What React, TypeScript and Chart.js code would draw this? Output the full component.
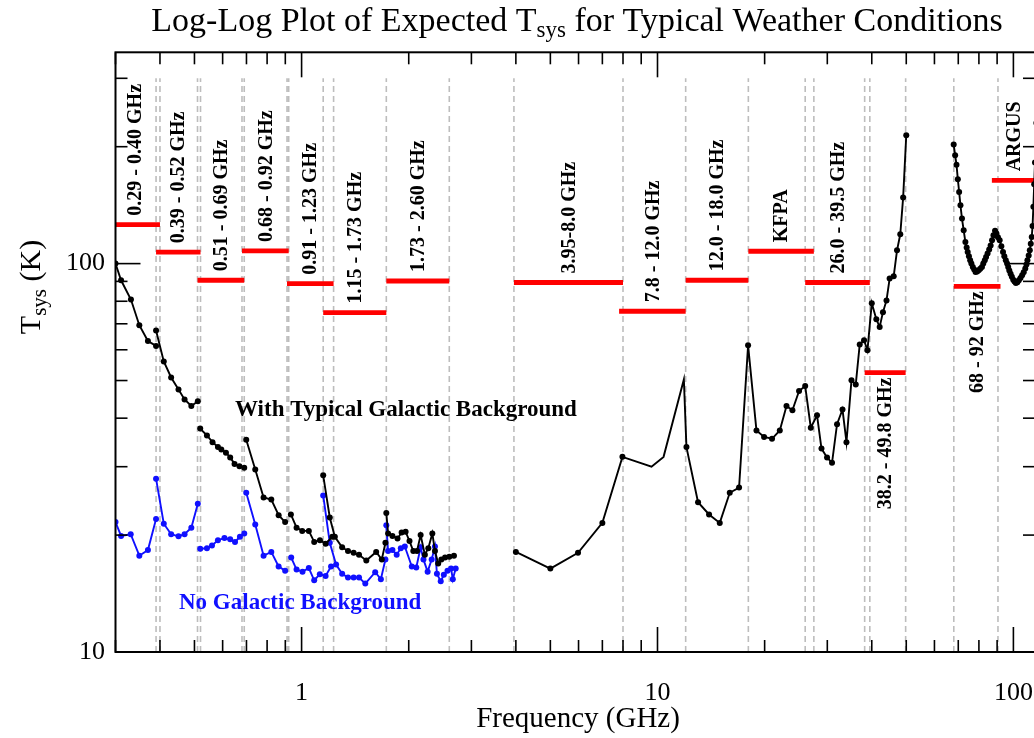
import React, { useEffect, useRef } from "react";
import { Chart, registerables } from "chart.js";

Chart.register(...registerables);

const FONT = "'Liberation Serif', 'Times New Roman', serif";

// ---- Tsys with typical galactic background (black), one array per receiver band ----
const galPF1a = [[0.30, 100], [0.311, 90.6], [0.3315, 80.8], [0.35, 69.4], [0.37, 63.2], [0.39, 61.4]];
const galPF1b = [[0.39, 67.3], [0.41, 56.0], [0.43, 50.9], [0.451, 47.4], [0.469, 44.7], [0.49, 43.0], [0.511, 44.2]];
const galPF1c = [[0.519, 37.6], [0.542, 36.1], [0.562, 34.7], [0.582, 33.7], [0.595, 33.2], [0.613, 32.6], [0.63, 31.7], [0.648, 30.5], [0.669, 30.1], [0.69, 29.8]];
const galPF1d = [[0.699, 35.2], [0.741, 29.5], [0.782, 25.0], [0.822, 24.7], [0.862, 22.5], [0.899, 21.6]];
const galPF2 = [[0.933, 22.6], [0.968, 20.9], [1.004, 20.5], [1.048, 20.5], [1.085, 19.2], [1.126, 19.4], [1.168, 19.0], [1.22, 19.8]];
const galL = [[1.15, 28.5], [1.2, 22.2], [1.24, 19.8], [1.3, 18.6], [1.35, 18.2], [1.4, 18.0], [1.45, 17.8], [1.52, 17.2], [1.62, 18.1], [1.68, 17.3], [1.72, 19.1]];
const galS = [[1.73, 22.8], [1.75, 20.2], [1.8, 19.9], [1.86, 19.6], [1.91, 20.3], [1.96, 20.4], [2.01, 19.3], [2.06, 18.2], [2.11, 18.2], [2.16, 20.0], [2.22, 17.8], [2.27, 18.5], [2.33, 20.2], [2.37, 18.2], [2.42, 16.9], [2.47, 17.3], [2.53, 17.5], [2.6, 17.6], [2.68, 17.7]];
const galHigh = [[4.0, 18.1], [5.0, 16.4], [5.98, 18.0], [7.0, 21.5], [7.97, 31.8], [9.62, 30.0], [10.4, 31.8], [11.86, 50.3], [12.06, 33.7], [13.0, 24.3], [13.96, 22.6], [14.96, 21.5], [15.96, 25.7], [16.95, 26.5], [17.97, 61.6], [18.97, 37.2], [19.93, 35.8], [20.98, 35.4], [22.06, 37.2], [23.04, 43.0], [23.94, 41.9], [24.99, 47.0], [26.0, 48.4], [26.96, 37.8], [28.07, 40.7], [28.89, 33.4], [29.95, 31.7], [30.93, 30.7], [31.95, 38.6], [33.1, 42.1], [33.96, 34.7], [35.08, 50.1], [36.06, 48.8], [37.0, 61.9], [38.05, 63.5], [38.9, 59.8], [40.0, 79.1], [41.2, 71.9], [42.1, 68.7], [43.0, 75.0], [44.0, 80.4], [44.9, 91.5], [46.1, 92.8], [47.1, 108.2], [48.1, 119], [49.0, 147.9], [50.0, 213.9]];
const galW = [[67.96, 202.5], [68.6, 190], [69.2, 179.8], [69.8, 165], [70.4, 152.9], [71.0, 141.3], [71.7, 130.6], [72.5, 121.8], [73.3, 113.7], [73.9, 110], [74.4, 107.1], [75.0, 104.5], [75.6, 102], [76.2, 100], [76.9, 98], [77.6, 96.5], [78.3, 95.1], [79.1, 95.4], [79.9, 96.1], [80.7, 97], [81.6, 98], [82.3, 100], [83.1, 102], [83.8, 104], [84.6, 106.1], [85.5, 108.8], [86.3, 111.4], [87.1, 114.8], [87.9, 118.3], [88.8, 121.5], [89.6, 119.5], [90.5, 117], [91.5, 114.8], [92.5, 110.8], [93.5, 107.1], [94.3, 104.5], [95.2, 102], [96.0, 100], [96.7, 98], [97.4, 96], [98.2, 94.2], [99.0, 92.5], [99.9, 90.9], [100.7, 89.9], [101.6, 89.1], [102.6, 89.6], [103.6, 90.6], [104.7, 91.8], [105.8, 93.3], [106.9, 95.0], [108.0, 97.1], [108.8, 99.5], [109.5, 102], [110.4, 105], [111.2, 108.2], [111.9, 112.5], [112.6, 117.1], [113.2, 125], [113.8, 140], [114.4, 160], [115.0, 182], [116.0, 230]];

// ---- Tsys with no galactic background (blue) ----
const noGalPF1a = [[0.30, 21.6], [0.311, 19.9], [0.331, 20.1], [0.35, 17.7], [0.37, 18.3], [0.39, 22.0]];
const noGalPF1b = [[0.39, 27.95], [0.41, 21.4], [0.43, 20.1], [0.451, 19.85], [0.469, 20.1], [0.49, 20.9], [0.511, 24.1]];
const noGalPF1c = [[0.519, 18.45], [0.542, 18.5], [0.56, 18.8], [0.582, 19.4], [0.607, 19.65], [0.63, 19.5], [0.65, 19.2], [0.671, 19.8], [0.69, 20.2]];
const noGalPF1d = [[0.699, 25.7], [0.741, 21.3], [0.782, 17.7], [0.822, 18.1], [0.862, 16.6], [0.899, 16.2]];
const noGalPF2 = [[0.935, 17.5], [0.968, 16.3], [1.006, 16.1], [1.048, 16.45], [1.085, 15.3], [1.125, 15.85], [1.168, 15.7], [1.21, 16.6]];
const noGalL = [[1.15, 25.3], [1.2, 19.1], [1.25, 16.8], [1.3, 15.9], [1.35, 15.55], [1.4, 15.55], [1.45, 15.55], [1.51, 15.0], [1.61, 16.05], [1.67, 15.4], [1.72, 17.3]];
const noGalS = [[1.73, 21.2], [1.75, 18.2], [1.8, 18.3], [1.85, 17.8], [1.9, 18.5], [1.95, 18.7], [2.04, 16.6], [2.1, 16.5], [2.16, 18.6], [2.2, 17.3], [2.26, 16.1], [2.32, 17.3], [2.37, 18.7], [2.4, 15.9], [2.46, 15.2], [2.51, 15.8], [2.57, 16.2], [2.63, 16.4], [2.66, 15.4], [2.71, 16.4]];

// ---- Receiver band bars (red) ----
const barLabels = ["0.29 - 0.40 GHz", "0.39 - 0.52 GHz", "0.51 - 0.69 GHz", "0.68 - 0.92 GHz", "0.91 - 1.23 GHz", "1.15 - 1.73 GHz", "1.73 - 2.60 GHz", "3.95-8.0 GHz", "7.8 - 12.0 GHz", "12.0 - 18.0 GHz", "KFPA", "26.0 - 39.5 GHz", "38.2 - 49.8 GHz", "68 - 92 GHz", "ARGUS"];
const barLo = [0.29, 0.39, 0.51, 0.68, 0.91, 1.15, 1.73, 3.95, 7.8, 12.0, 18.0, 26.0, 38.2, 68, 87];
const barHi = [0.40, 0.52, 0.69, 0.92, 1.23, 1.73, 2.60, 8.0, 12.0, 18.0, 27.5, 39.5, 49.8, 92, 116];
const barT = [126, 107, 90.6, 107.8, 88.8, 74.8, 90.2, 89.4, 75.4, 90.6, 107.6, 89.4, 52.4, 87.4, 163.8];
const barLabelSide = ["above", "above", "above", "above", "above", "above", "above", "above", "above", "above", "above", "above", "below", "below", "above"];

// ---- Band edges (grey dashed) ----
const edgeFreqs = [0.39, 0.40, 0.51, 0.52, 0.68, 0.69, 0.91, 0.92, 1.15, 1.23, 1.73, 2.60, 3.95, 8.0, 12.0, 18.0, 26.0, 27.5, 38.2, 39.5, 49.8, 68, 90.5];
const edgeTop = 300;

// ---- Axes ----
const xMin = 0.3;
const xMax = 115;
const yMin = 10;
const yMax = 350;
const xMajorTicks = [1, 10, 100];
const xMajorLabels = ["1", "10", "100"];
const xMinorTicks = [0.3, 0.4, 0.5, 0.6, 0.7, 0.8, 0.9, 2, 3, 4, 5, 6, 7, 8, 9, 20, 30, 40, 50, 60, 70, 80, 90];
const yMajorTicks = [10, 100];
const yMajorLabels = ["10", "100"];
const yMinorTicks = [20, 30, 40, 50, 60, 70, 80, 90, 200, 300];

const titleMain = "Log-Log Plot of Expected T";
const titleSub = "sys";
const titleRest = " for Typical Weather Conditions";
const xTitle = "Frequency (GHz)";
const yTitleMain = "T";
const yTitleSub = "sys";
const yTitleRest = " (K)";
const galText = "With Typical Galactic Background";
const noGalText = "No Galactic Background";

function joinBands(bands: number[][][]) {
  const out: { x: number; y: number | null }[] = [];
  bands.forEach((b, i) => {
    if (i) out.push({ x: b[0][0], y: null });
    b.forEach(([x, y]) => out.push({ x, y }));
  });
  return out;
}

function drawParts(ctx: CanvasRenderingContext2D, parts: { t: string; font: string; dy: number }[], cx: number, y: number) {
  let total = 0;
  const widths = parts.map((p) => {
    ctx.font = p.font;
    const w = ctx.measureText(p.t).width;
    total += w;
    return w;
  });
  let x = cx - total / 2;
  ctx.textAlign = "left";
  parts.forEach((p, i) => {
    ctx.font = p.font;
    ctx.fillText(p.t, x, y + p.dy);
    x += widths[i];
  });
}

const decor = {
  id: "decor",
  afterDatasetsDraw(chart: any) {
    const ctx: CanvasRenderingContext2D = chart.ctx;
    const xs = chart.scales.x;
    const ys = chart.scales.y;
    ctx.save();
    ctx.fillStyle = "#000";
    ctx.font = `bold 20px ${FONT}`;
    ctx.textBaseline = "middle";
    barLabels.forEach((lab, i) => {
      const xc = xs.getPixelForValue(Math.sqrt(barLo[i] * barHi[i]));
      const yb = ys.getPixelForValue(barT[i]);
      ctx.save();
      if (barLabelSide[i] === "above") {
        ctx.translate(xc, yb - 9);
        ctx.rotate(-Math.PI / 2);
        ctx.textAlign = "left";
      } else {
        ctx.translate(xc, yb + 5);
        ctx.rotate(-Math.PI / 2);
        ctx.textAlign = "right";
      }
      ctx.fillText(lab, 0, 1);
      ctx.restore();
    });
    ctx.font = `bold 23px ${FONT}`;
    ctx.textAlign = "left";
    ctx.fillStyle = "#000";
    ctx.fillText(galText, 235, 410);
    ctx.fillStyle = "#1010ff";
    ctx.fillText(noGalText, 179, 603);
    ctx.restore();
  },
  afterDraw(chart: any) {
    const ctx: CanvasRenderingContext2D = chart.ctx;
    const { left, right, top, bottom } = chart.chartArea;
    const xs = chart.scales.x;
    const ys = chart.scales.y;
    ctx.save();
    ctx.strokeStyle = "#000";
    ctx.lineWidth = 1.6;
    const major = 25;
    const minor = 12;
    const tick = (x1: number, y1: number, x2: number, y2: number) => {
      ctx.beginPath();
      ctx.moveTo(x1, y1);
      ctx.lineTo(x2, y2);
      ctx.stroke();
    };
    xMajorTicks.forEach((v) => {
      const p = xs.getPixelForValue(v);
      if (p < left - 1 || p > right + 1) return;
      tick(p, bottom, p, bottom - major);
      tick(p, top, p, top + major);
    });
    xMinorTicks.forEach((v) => {
      const p = xs.getPixelForValue(v);
      if (p < left - 1 || p > right + 1) return;
      tick(p, bottom, p, bottom - minor);
      tick(p, top, p, top + minor);
    });
    yMajorTicks.forEach((v) => {
      const p = ys.getPixelForValue(v);
      tick(left, p, left + major, p);
      tick(right, p, right - major, p);
    });
    yMinorTicks.forEach((v) => {
      const p = ys.getPixelForValue(v);
      tick(left, p, left + minor, p);
      tick(right, p, right - minor, p);
    });
    ctx.lineWidth = 2;
    ctx.strokeRect(left, top, right - left, bottom - top);

    ctx.fillStyle = "#000";
    ctx.textBaseline = "middle";
    ctx.font = `26px ${FONT}`;
    ctx.textAlign = "center";
    xMajorTicks.forEach((v, i) => {
      ctx.fillText(xMajorLabels[i], xs.getPixelForValue(v), 693);
    });
    ctx.textAlign = "right";
    yMajorTicks.forEach((v, i) => {
      ctx.fillText(yMajorLabels[i], 105, ys.getPixelForValue(v));
    });

    ctx.textBaseline = "alphabetic";
    drawParts(ctx, [
      { t: titleMain, font: `34px ${FONT}`, dy: 0 },
      { t: titleSub, font: `23px ${FONT}`, dy: 6 },
      { t: titleRest, font: `34px ${FONT}`, dy: 0 },
    ], 577, 31);
    ctx.textAlign = "center";
    ctx.font = `29px ${FONT}`;
    ctx.fillText(xTitle, 578, 727);
    ctx.save();
    ctx.translate(40, 287);
    ctx.rotate(-Math.PI / 2);
    drawParts(ctx, [
      { t: yTitleMain, font: `30px ${FONT}`, dy: 0 },
      { t: yTitleSub, font: `21px ${FONT}`, dy: 6 },
      { t: yTitleRest, font: `30px ${FONT}`, dy: 0 },
    ], 0, 0);
    ctx.restore();
    ctx.restore();
  },
};

export default function App() {
  const ref = useRef<HTMLCanvasElement>(null);
  useEffect(() => {
    const blackData = joinBands([galPF1a, galPF1b, galPF1c, galPF1d, galPF2, galL, galS, galHigh, galW]);
    const blueData = joinBands([noGalPF1a, noGalPF1b, noGalPF1c, noGalPF1d, noGalPF2, noGalL, noGalS]);
    const barData: { x: number; y: number | null }[] = [];
    barLo.forEach((lo, i) => {
      barData.push({ x: lo, y: barT[i] }, { x: barHi[i], y: barT[i] }, { x: barHi[i], y: null });
    });
    const edgeData: { x: number; y: number | null }[] = [];
    edgeFreqs.forEach((f) => {
      edgeData.push({ x: f, y: yMin }, { x: f, y: edgeTop }, { x: f, y: null });
    });
    const chart = new Chart(ref.current as HTMLCanvasElement, {
      type: "line",
      data: {
        datasets: [
          {
            data: blackData as any,
            borderColor: "#000",
            backgroundColor: "#000",
            borderWidth: 1.9,
            pointRadius: (c: any) => {
              const r = c.raw;
              if (!r || r.y == null) return 0;
              return r.x > 8.5 && r.x < 12 ? 0 : 3;
            },
            pointBorderWidth: 0,
            pointBackgroundColor: "#000",
            tension: 0,
          },
          {
            data: blueData as any,
            borderColor: "#1010ff",
            backgroundColor: "#1010ff",
            borderWidth: 1.9,
            pointRadius: 3,
            pointBorderWidth: 0,
            pointBackgroundColor: "#1010ff",
            tension: 0,
          },
          {
            data: barData as any,
            borderColor: "#ff0000",
            borderWidth: 4.8,
            borderCapStyle: "butt",
            pointRadius: 0,
            tension: 0,
          },
          {
            data: edgeData as any,
            borderColor: "#bdbdbd",
            borderWidth: 1.6,
            borderDash: [6, 4],
            pointRadius: 0,
            tension: 0,
          },
        ],
      },
      options: {
        animation: false,
        responsive: true,
        maintainAspectRatio: false,
        events: [],
        layout: { padding: { left: 115.5, top: 52.3, right: 35, bottom: 86 } },
        plugins: { legend: { display: false }, tooltip: { enabled: false }, title: { display: false } },
        scales: {
          x: { type: "logarithmic", min: xMin, max: xMax, display: false },
          y: { type: "logarithmic", min: yMin, max: yMax, display: false },
        },
      },
      plugins: [decor],
    });
    return () => chart.destroy();
  }, []);
  return (
    <div style={{ position: "fixed", left: 0, top: 0, width: 1034, height: 738, overflow: "hidden", background: "#fff" }}>
      <div style={{ position: "relative", width: 1070, height: 738 }}>
        <canvas ref={ref} />
      </div>
    </div>
  );
}
